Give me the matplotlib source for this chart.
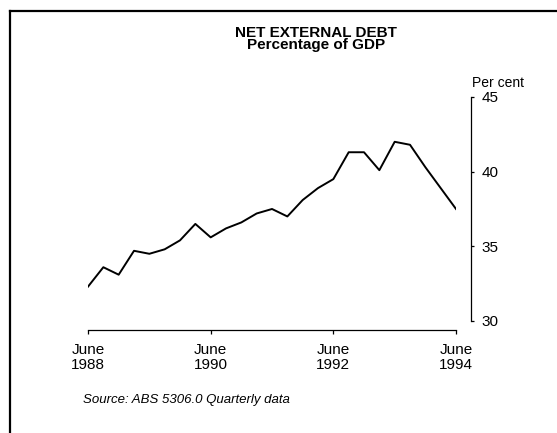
import matplotlib.pyplot as plt
from matplotlib.lines import Line2D

plt.rcParams['font.family'] = ['Liberation Sans', 'DejaVu Sans']

# quarterly data, June 1988 - June 1994
quarters = list(range(25))
debt = [32.3, 33.6, 33.1, 34.7, 34.5, 34.8, 35.4, 36.5, 35.6, 36.2,
        36.6, 37.2, 37.5, 37.0, 38.1, 38.9, 39.5, 41.3, 41.3, 40.1,
        42.0, 41.8, 40.3, 38.9, 37.5]
tick_pos = [0, 8, 16, 24]
tick_labels = ['June\n1988', 'June\n1990', 'June\n1992', 'June\n1994']
y_ticks = [30, 35, 40, 45]

fig = plt.figure(figsize=(5.57, 4.33), dpi=100)
ax = fig.add_axes([0.158, 0.2587, 0.6607, 0.5173])

ax.plot(quarters, debt, color='black', linewidth=1.4)
ax.set_xlim(0, 24)
ax.set_ylim(30, 45)

ax.spines['top'].set_visible(False)
ax.spines['left'].set_visible(False)
ax.spines['right'].set_position(('outward', 10.8))
ax.spines['bottom'].set_position(('outward', 6.5))
ax.spines['right'].set_linewidth(0.9)
ax.spines['bottom'].set_linewidth(0.9)

ax.yaxis.tick_right()
ax.set_yticks(y_ticks)
ax.set_yticklabels([str(v) for v in y_ticks], fontsize=11)
ax.tick_params(axis='y', direction='out', length=2.5, width=0.9, pad=5)

ax.set_xticks(tick_pos)
ax.set_xticklabels(tick_labels, fontsize=11, linespacing=1.1)
ax.tick_params(axis='x', direction='out', length=3, width=0.9, pad=6)

fig.text(0.567, 1 - 39 / 433, 'NET EXTERNAL DEBT\nPercentage of GDP',
         ha='center', va='center', fontsize=11, fontweight='bold',
         linespacing=0.9)
fig.text(0.8474, 0.8083, 'Per cent', ha='left', va='center', fontsize=10)
fig.text(0.149, 0.0762, 'Source: ABS 5306.0 Quarterly data', ha='left',
         va='center', fontsize=9.5, style='italic')

# page frame (left and top edges)
fig.add_artist(Line2D([10 / 557, 10 / 557], [0, 1 - 11 / 433],
                      transform=fig.transFigure, color='black', linewidth=1.6))
fig.add_artist(Line2D([10 / 557, 1], [1 - 11 / 433, 1 - 11 / 433],
                      transform=fig.transFigure, color='black', linewidth=1.6))

fig.savefig('out.png', dpi=100)
